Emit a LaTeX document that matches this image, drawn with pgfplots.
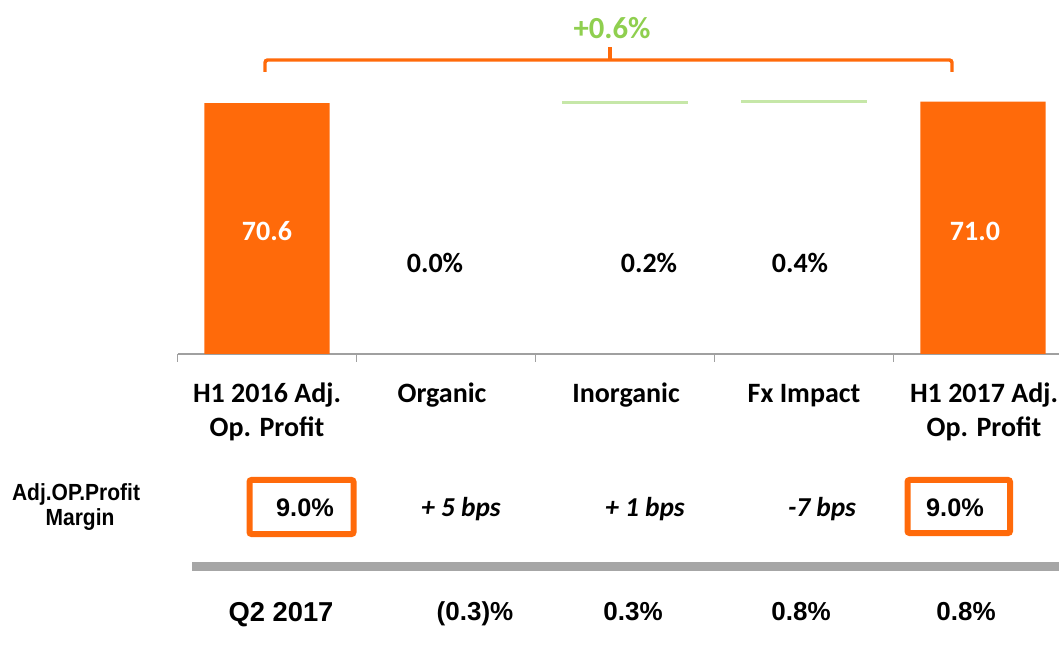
\documentclass[border=0pt]{standalone}
\usepackage{fontspec}
\setmainfont{Carlito}
\newfontfamily\arialf{Liberation Sans}
\newfontfamily\arialn[FakeStretch=0.9]{Liberation Sans}
\usepackage{pgfplots}
\pgfplotsset{compat=1.18}
\definecolor{bOrange}{HTML}{FF6A0A}
\definecolor{tGreen}{HTML}{8FCF4F}
\definecolor{lGreen}{HTML}{C6E7A8}
\definecolor{gBar}{HTML}{A6A6A6}
\definecolor{axGrey}{HTML}{A0A0A0}
\begin{document}
\begin{tikzpicture}
\path[use as bounding box] (0,0) rectangle (794.25pt,484.5pt);
\begin{axis}[
  at={(133.125pt,219pt)}, anchor=south west,
  scale only axis, width=661.125pt, height=265.5pt,
  xmin=-0.5, xmax=4.425, ymin=0, ymax=99.58,
  axis x line=bottom, axis y line=none,
  x axis line style={draw=axGrey, line width=1.1pt, -},
  xtick={-0.5,0.5,1.5,2.5,3.5}, xticklabels={},
  xtick style={draw=axGrey, line width=0.9pt},
  tick align=outside, major tick length=6pt,
  ytick=\empty,
  clip=false]
\addplot[ybar, bar width=0.7, fill=bOrange, draw=none] coordinates {(0,70.6) (4,71.0)};
% floating waterfall steps (Inorganic, Fx Impact)
\addplot[lGreen, line width=2pt] coordinates {(1.65,70.74) (2.35,70.74)};
\addplot[lGreen, line width=2pt] coordinates {(2.65,71.0) (3.35,71.0)};
\end{axis}
\begin{scope}[x=0.75pt,y=-0.75pt,shift={(0pt,484.5pt)}]
% bracket
\draw[bOrange, line width=2.6pt, rounded corners=2pt] (265,72) -- (265,60) -- (952,60) -- (952,72);
\draw[bOrange, line width=2.6pt] (610,61) -- (610,47);
\node[anchor=base, text=tGreen, font=\fontsize{23}{27}\selectfont\bfseries] at (612,39) {+0.6\%};
% bar labels
\node[anchor=base, text=white, font=\fontsize{21}{25}\selectfont\bfseries] at (267,241) {70.6};
\node[anchor=base, text=white, font=\fontsize{21}{25}\selectfont\bfseries] at (975,241) {71.0};
\node[anchor=base, font=\fontsize{21}{25}\selectfont\bfseries] at (435,273) {0.0\%};
\node[anchor=base, font=\fontsize{21}{25}\selectfont\bfseries] at (649,273) {0.2\%};
\node[anchor=base, font=\fontsize{21}{25}\selectfont\bfseries] at (800,273) {0.4\%};
% category labels
\begin{scope}[every node/.style={anchor=base, font=\fontsize{21}{25}\selectfont\bfseries}]
\node at (267,403) {H1 2016 Adj.};
\node at (267,437) {Op. Profit};
\node at (442,403) {Organic};
\node at (626,403) {Inorganic};
\node at (804,403) {Fx Impact};
\node at (984,403) {H1 2017 Adj.};
\node at (984,437) {Op. Profit};
\end{scope}
% margin row
\node[anchor=base, font=\arialn\fontsize{17.5}{21}\selectfont\bfseries] at (76,500) {Adj.OP.Profit};
\node[anchor=base, font=\arialn\fontsize{17.5}{21}\selectfont\bfseries] at (80,525) {Margin};
\draw[bOrange, line width=4.5pt, rounded corners=1.5pt] (249.5,480) rectangle (353.5,534);
\draw[bOrange, line width=4.5pt, rounded corners=1.5pt] (907.5,480) rectangle (1010,533);
\node[anchor=base, font=\arialf\fontsize{19}{23}\selectfont\bfseries] at (305,516) {9.0\%};
\node[anchor=base, font=\arialf\fontsize{19}{23}\selectfont\bfseries] at (955,516) {9.0\%};
\node[anchor=base, font=\fontsize{20.5}{24}\selectfont\bfseries\itshape] at (461,516) {+ 5 bps};
\node[anchor=base, font=\fontsize{20.5}{24}\selectfont\bfseries\itshape] at (645,516) {+ 1 bps};
\node[anchor=base, font=\fontsize{20.5}{24}\selectfont\bfseries\itshape] at (822,516) {-7 bps};
% grey separator
\fill[gBar] (192,562) rectangle (1059,570.5);
% Q2 row
\node[anchor=base, font=\arialf\fontsize{20.5}{24}\selectfont\bfseries] at (281,621) {Q2 2017};
\node[anchor=base, font=\arialf\fontsize{19.5}{24}\selectfont\bfseries] at (475,620) {(0.3)\%};
\node[anchor=base, font=\arialf\fontsize{19.5}{24}\selectfont\bfseries] at (633,620) {0.3\%};
\node[anchor=base, font=\arialf\fontsize{19.5}{24}\selectfont\bfseries] at (801,620) {0.8\%};
\node[anchor=base, font=\arialf\fontsize{19.5}{24}\selectfont\bfseries] at (966,620) {0.8\%};
\end{scope}
\end{tikzpicture}
\end{document}
